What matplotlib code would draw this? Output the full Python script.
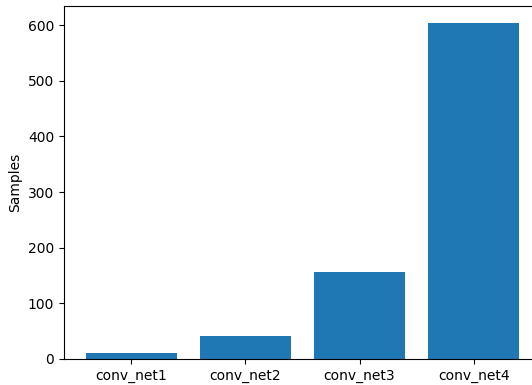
import matplotlib
matplotlib.use("Agg")
import matplotlib.pyplot as plt

# Sample counts per network
models = ["conv_net1", "conv_net2", "conv_net3", "conv_net4"]
samples = [10, 41, 157, 604]

fig = plt.figure(figsize=(5.32, 3.85), dpi=100)
# axes run slightly past the right edge of the canvas
ax = fig.add_axes([64 / 532, 1 - 359 / 385, 477 / 532, 353 / 385])
ax.bar(models, samples)
ax.set_ylabel("Samples")

fig.savefig("out.png", dpi=100)
